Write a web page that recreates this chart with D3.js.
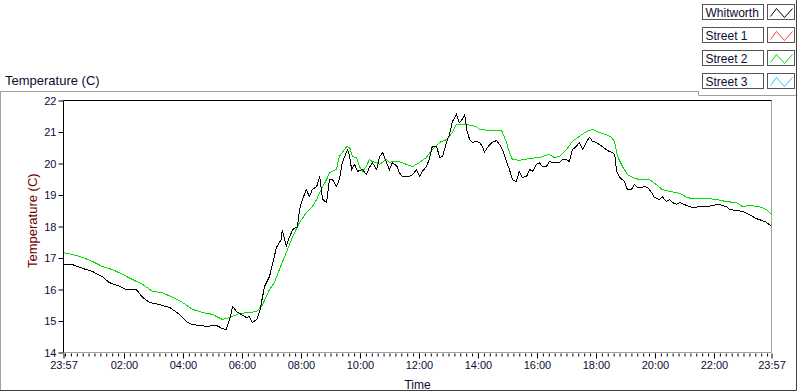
<!DOCTYPE html>
<html>
<head>
<meta charset="utf-8">
<script src="https://cdn.jsdelivr.net/npm/d3@7"></script>
<style>
  body { margin: 0; background: #fff; }
  svg { display: block; font-family: "Liberation Sans", Arial, sans-serif; }
  .tick text { fill: #0c0c34; }
</style>
</head>
<body>
<script>
// Whitworth (black) readings
var whitTimes = ["23:57","00:15","00:36","00:56","01:16","01:30","01:51","02:05","02:25","02:38","02:52","03:12","03:33","03:53","04:07","04:19","04:48","05:08","05:20","05:28","05:35","05:41","05:49","05:55","06:09","06:15","06:21","06:30","06:36","06:46","06:56","07:02","07:10","07:20","07:22","07:30","07:37","07:43","07:53","07:57","08:03","08:11","08:17","08:23","08:32","08:38","08:44","08:52","08:58","09:04","09:12","09:18","09:24","09:33","09:35","09:39","09:43","09:49","09:55","10:05","10:13","10:19","10:25","10:34","10:40","10:46","10:54","11:00","11:06","11:16","11:20","11:26","11:41","11:47","11:55","12:01","12:07","12:15","12:21","12:27","12:36","12:42","12:48","12:56","13:02","13:08","13:16","13:22","13:28","13:33","13:37","13:43","13:49","13:57","14:03","14:09","14:13","14:19","14:29","14:38","14:44","14:50","14:58","15:04","15:10","15:18","15:24","15:30","15:39","15:45","15:51","15:59","16:05","16:11","16:19","16:25","16:32","16:46","16:52","17:00","17:06","17:12","17:20","17:26","17:33","17:41","17:47","17:53","18:01","18:07","18:13","18:21","18:27","18:34","18:38","18:42","18:48","18:58","19:04","19:12","19:18","19:24","19:33","19:39","19:45","19:53","19:59","20:09","20:15","20:23","20:30","20:36","20:44","20:50","21:04","21:16","21:31","21:45","21:57","22:11","22:25","22:32","22:46","22:58","23:12","23:26","23:38","23:47","23:57"];
var whitTemps = [16.79,16.79,16.67,16.57,16.41,16.22,16.10,16.00,16.00,15.75,15.59,15.52,15.43,15.21,14.98,14.89,14.83,14.86,14.76,14.73,15.05,15.46,15.30,15.24,15.11,15.14,14.95,15.05,15.30,16.10,16.41,16.79,17.33,17.59,17.90,17.37,17.68,17.90,18.00,18.54,18.86,19.17,18.95,19.17,19.27,19.59,18.86,18.76,19.49,19.49,19.27,19.49,20.03,20.38,20.44,20.22,19.81,19.97,19.75,19.81,19.65,19.87,20.03,19.81,20.22,20.35,20.03,19.81,20.03,19.90,19.71,19.59,19.59,19.65,19.81,19.59,19.75,19.90,20.13,20.54,20.54,20.19,20.22,20.67,20.92,21.33,21.56,21.30,21.40,21.56,21.08,20.76,20.67,20.70,20.67,20.54,20.35,20.51,20.67,20.73,20.60,20.44,20.06,19.81,19.49,19.43,19.75,19.56,19.59,19.81,19.75,19.97,20.03,19.90,19.90,20.06,20.03,20.03,20.13,20.13,20.06,20.44,20.54,20.67,20.44,20.70,20.83,20.70,20.67,20.60,20.54,20.44,20.38,20.35,20.29,19.75,19.56,19.43,19.17,19.17,19.33,19.24,19.24,19.27,19.24,19.08,18.92,18.86,18.95,18.79,18.86,18.76,18.70,18.76,18.67,18.60,18.63,18.63,18.67,18.70,18.63,18.54,18.51,18.48,18.38,18.25,18.19,18.13,18.00];

// Street 2 (green) readings
var st2Times = ["23:57","00:15","00:36","00:56","01:16","01:37","01:57","02:17","02:38","02:58","03:18","03:39","03:59","04:19","04:40","05:00","05:20","05:35","05:55","06:15","06:30","06:42","06:56","07:06","07:16","07:30","07:43","07:57","08:11","08:23","08:32","08:38","08:52","08:58","09:12","09:18","09:33","09:39","09:45","09:53","09:59","10:05","10:13","10:19","10:25","10:34","10:40","10:54","11:00","11:06","11:20","11:35","11:47","12:01","12:15","12:27","12:42","12:56","13:08","13:16","13:37","13:57","14:03","14:23","14:48","14:58","15:04","15:10","15:24","15:45","16:05","16:25","16:35","16:46","17:00","17:12","17:26","17:41","17:53","18:07","18:21","18:32","18:38","18:44","18:54","19:04","19:14","19:28","19:49","20:03","20:15","20:30","20:44","20:56","21:04","21:16","21:45","22:05","22:25","22:46","22:58","23:12","23:32","23:47","23:57"];
var st2Temps = [17.17,17.11,17.02,16.89,16.73,16.63,16.48,16.32,16.16,15.94,15.90,15.75,15.59,15.37,15.27,15.21,15.05,15.11,15.24,15.27,15.30,15.52,16.00,16.22,16.63,17.17,17.68,18.13,18.44,18.63,18.86,19.08,19.49,19.71,19.81,20.22,20.54,20.51,20.22,20.19,19.90,19.75,19.90,20.13,20.06,20.03,19.97,20.13,20.03,20.06,20.06,19.97,19.90,20.03,20.19,20.44,20.67,20.76,20.98,21.24,21.24,21.17,21.08,21.05,21.05,20.67,20.35,20.13,20.10,20.16,20.19,20.29,20.19,20.22,20.44,20.70,20.86,21.02,21.08,20.98,20.92,20.83,20.67,20.22,19.90,19.65,19.56,19.49,19.49,19.33,19.17,19.11,19.08,19.02,18.92,18.89,18.89,18.86,18.79,18.76,18.63,18.67,18.63,18.54,18.38];

var legendNames = ["Whitworth", "Street 1", "Street 2", "Street 3"];
var legendColors = ["#000000", "#ff4444", "#00e000", "#33bbff"];

var yTicks = [14, 15, 16, 17, 18, 19, 20, 21, 22];
var startTime = "23:57", endTime = "23:57";

var margin = {top: 100.5, left: 63.5},
	width = 708,
	height = 252;

var parseTime = d3.timeParse("%H:%M");

// turn HH:MM strings into dates, rolling over at midnight
function toDates(times) {
	var day = 1, prev = null;
	return times.map(function(s) {
		var t = parseTime(s);
		if (prev && t < prev) day++;
		prev = t;
		return new Date(1900, 0, day, t.getHours(), t.getMinutes());
	});
}

var t0 = toDates([startTime])[0];
var t1 = toDates([startTime, "00:00", endTime])[2];

var x = d3.scaleTime().domain([t0, t1]).range([0, width]);
var y = d3.scaleLinear().domain([14, 22]).range([height, 0]);

var svg = d3.select("body").append("svg")
	.attr("width", 800)
	.attr("height", 392);

// outer frame
svg.append("path")
	.attr("d", "M0.5,391V91.5H698.5V95.5H797")
	.attr("fill", "none").attr("stroke", "#a0a0a0");
svg.append("path")
	.attr("d", "M796.5,0V390.5H0")
	.attr("fill", "none").attr("stroke", "#404040");

svg.append("text")
	.attr("x", 5).attr("y", 85)
	.style("font-size", "13px")
	.attr("fill", "#0c0c34")
	.text("Temperature (C)");

// legend
var leg = svg.selectAll(".leg")
	.data(legendNames)
	.enter().append("g")
	.attr("transform", (d, i) => "translate(702.5," + (4.5 + i * 23) + ")");

leg.append("rect")
	.attr("width", 61).attr("height", 15)
	.attr("fill", "#fff").attr("stroke", "#555");
leg.append("text")
	.attr("x", 3).attr("y", 12)
	.style("font-size", "12px")
	.attr("fill", "#0c0c34")
	.text(d => d);
leg.append("rect")
	.attr("x", 65).attr("width", 27).attr("height", 15)
	.attr("fill", "#fff").attr("stroke", "#555");
leg.append("path")
	.attr("d", "M68,12L74,4L82,13L90,4")
	.attr("fill", "none")
	.attr("stroke", (d, i) => legendColors[i]);

var g = svg.append("g")
	.attr("transform", "translate(" + margin.left + "," + margin.top + ")");

// plot frame
g.append("path")
	.attr("d", "M" + width + ",0V" + height + "H0")
	.attr("fill", "none").attr("stroke", "#a0a0a0");
g.append("path")
	.attr("d", "M0," + height + "V0H" + width)
	.attr("fill", "none").attr("stroke", "#000");

var line = d3.line()
	.x(d => x(d[0]))
	.y(d => y(d[1]));

var whit = d3.zip(toDates(whitTimes), whitTemps);
var st2 = d3.zip(toDates(st2Times), st2Temps);

g.append("path")
	.datum(st2)
	.attr("fill", "none")
	.attr("stroke", legendColors[2])
	.attr("stroke-width", 1)
	.attr("shape-rendering", "crispEdges")
	.attr("d", line);

g.append("path")
	.datum(whit)
	.attr("fill", "none")
	.attr("stroke", legendColors[0])
	.attr("stroke-width", 1)
	.attr("shape-rendering", "crispEdges")
	.attr("d", line);

// y axis
var yAxis = g.append("g")
	.call(d3.axisLeft(y).tickValues(yTicks).tickSize(5).tickPadding(2));
yAxis.select(".domain").remove();
yAxis.selectAll("text").style("font-size", "11px").style("font-family", "Liberation Sans, Arial, sans-serif");

// x axis: majors every 2 hours plus the ends, minors every 12 minutes
var majors = [t0].concat(d3.timeHour.every(2).range(d3.timeHour.offset(t0, 1), t1), [t1]);
var minors = d3.timeMinute.every(12).range(t0, t1);
var fmt = d3.timeFormat("%H:%M");

var xMinor = g.append("g")
	.attr("transform", "translate(0," + (height + 1) + ")")
	.call(d3.axisBottom(x).tickValues(minors).tickSize(3).tickFormat(""));
xMinor.select(".domain").remove();

var xAxis = g.append("g")
	.attr("transform", "translate(0," + (height + 1) + ")")
	.call(d3.axisBottom(x).tickValues(majors).tickSize(5).tickPadding(3).tickFormat(fmt));
xAxis.select(".domain").remove();
xAxis.selectAll("text").style("font-size", "11px").style("font-family", "Liberation Sans, Arial, sans-serif");

g.append("text")
	.attr("x", width / 2).attr("y", 288)
	.attr("text-anchor", "middle")
	.style("font-size", "12px")
	.attr("fill", "#0c0c34")
	.text("Time");

svg.append("text")
	.attr("transform", "translate(37,268) rotate(-90)")
	.style("font-size", "13px")
	.attr("fill", "#6b0000")
	.text("Temperature (C)");
</script>
</body>
</html>
